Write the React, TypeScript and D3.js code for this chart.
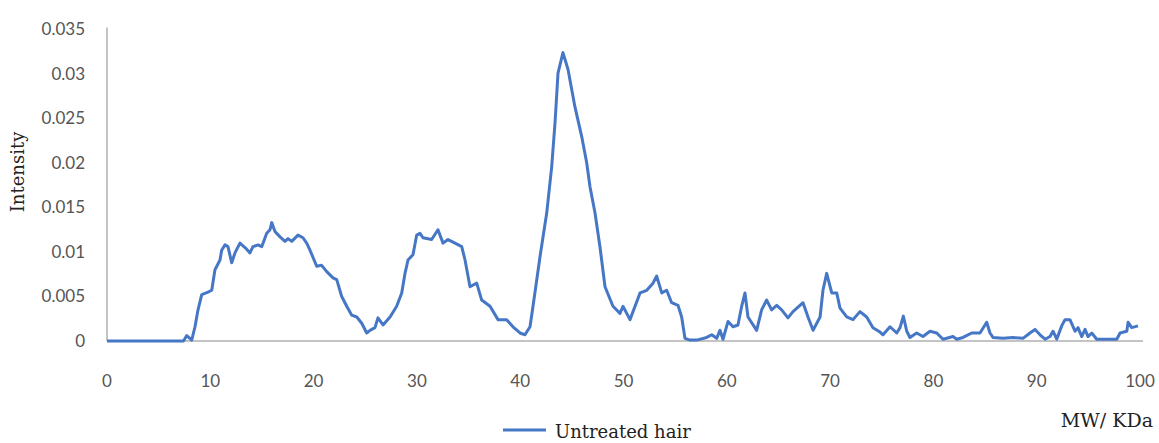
import React from "react";
import { scaleLinear, line, range } from "d3";

// molecular weight (kDa) and intensity
const mw = [
  0, 7.4, 7.72, 8.2, 8.52, 8.81, 9.17, 9.78, 10.14, 10.45, 10.94, 11.1, 11.42, 11.71, 12.07, 12.39,
  12.87, 13.36, 13.84, 14.13, 14.62, 14.98, 15.46, 15.78, 15.95, 16.26, 16.75, 17.23, 17.52, 17.88,
  18.49, 18.97, 19.33, 19.65, 20.3, 20.78, 21.27, 21.88, 22.24, 22.72, 23.21, 23.69, 24.18, 24.66,
  25.14, 25.46, 25.94, 26.23, 26.72, 27.4, 28.04, 28.53, 28.85, 29.14, 29.62, 29.98, 30.3, 30.59,
  31.43, 32.04, 32.53, 33.01, 33.69, 34.34, 34.66, 35.14, 35.79, 36.27, 37.08, 37.85, 38.69, 39.3,
  39.98, 40.46, 40.95, 41.24, 41.92, 42.57, 43.05, 43.37, 43.66, 44.14, 44.63, 45.3, 45.95, 46.44,
  46.76, 47.24, 47.72, 48.21, 48.98, 49.66, 49.95, 50.63, 51.6, 52.25, 52.86, 53.21, 53.7, 54.18,
  54.66, 55.28, 55.63, 55.95, 56.44, 57.09, 58.05, 58.54, 59.02, 59.34, 59.63, 60.12, 60.6, 61.08,
  61.44, 61.76, 62.05, 62.89, 63.37, 63.86, 64.34, 64.83, 65.31, 65.92, 66.41, 67.38, 67.86, 68.35,
  69.03, 69.31, 69.67, 70.16, 70.64, 70.96, 71.61, 72.22, 72.89, 73.54, 74.15, 74.83, 75.12, 75.8,
  76.45, 76.77, 77.09, 77.42, 77.73, 78.38, 78.99, 79.67, 80.32, 80.93, 81.9, 82.26, 82.87, 83.71,
  84.51, 85.16, 85.48, 85.77, 86.74, 87.7, 88.67, 89.35, 89.84, 90.32, 90.81, 91.29, 91.58, 91.94,
  92.42, 92.74, 93.22, 93.71, 94.0, 94.36, 94.68, 94.97, 95.33, 95.81, 97.75, 98.07, 98.72, 98.85,
  99.2, 99.81,
];
const intensity = [
  0, 0, 0.0006, 0.0001, 0.0016, 0.0035, 0.0052, 0.0055, 0.0057, 0.008, 0.0091, 0.0102, 0.0108, 0.0106,
  0.0088, 0.0099, 0.011, 0.0105, 0.0099, 0.0106, 0.0108, 0.0106, 0.0121, 0.0125, 0.0133, 0.0123, 0.0117,
  0.0112, 0.0115, 0.0112, 0.0119, 0.0116, 0.011, 0.0102, 0.0084, 0.0085, 0.0078, 0.0071, 0.0069, 0.005,
  0.0039, 0.0029, 0.0027, 0.002, 0.0009, 0.0012, 0.0015, 0.0026, 0.0018, 0.0027, 0.0039, 0.0054, 0.0076,
  0.0091, 0.0097, 0.0119, 0.0121, 0.0116, 0.0114, 0.0125, 0.011, 0.0114, 0.011, 0.0106, 0.0091, 0.0061,
  0.0065, 0.0046, 0.0039, 0.0024, 0.0024, 0.0016, 0.0009, 0.0007, 0.0016, 0.0039, 0.0095, 0.0144, 0.0196,
  0.0245, 0.0301, 0.0324, 0.0305, 0.0263, 0.023, 0.02, 0.0173, 0.0144, 0.0106, 0.0061, 0.0039, 0.0031,
  0.0039, 0.0024, 0.0054, 0.0057, 0.0065, 0.0073, 0.0054, 0.0057, 0.0043, 0.004, 0.0027, 0.0003, 0.0001,
  0.0001, 0.0004, 0.0007, 0.0003, 0.0012, 0.0002, 0.0022, 0.0016, 0.0018, 0.0039, 0.0054, 0.0027, 0.0012,
  0.0035, 0.0046, 0.0035, 0.004, 0.0035, 0.0026, 0.0033, 0.0043, 0.0027, 0.0012, 0.0027, 0.0057, 0.0076,
  0.0054, 0.0054, 0.0037, 0.0027, 0.0024, 0.0033, 0.0027, 0.0015, 0.001, 0.0007, 0.0016, 0.0009, 0.0015,
  0.0028, 0.0011, 0.0004, 0.0009, 0.0005, 0.0011, 0.0009, 0.0002, 0.0005, 0.0002, 0.0004, 0.0009, 0.0009,
  0.0021, 0.0009, 0.0004, 0.0003, 0.0004, 0.0003, 0.0009, 0.0013, 0.0007, 0.0002, 0.0005, 0.0011, 0.0002,
  0.0017, 0.0024, 0.0024, 0.0011, 0.0015, 0.0005, 0.0013, 0.0005, 0.0009, 0.0002, 0.0002, 0.0009, 0.0011,
  0.0021, 0.0015, 0.0017,
];
const yTicks = [0, 0.005, 0.01, 0.015, 0.02, 0.025, 0.03, 0.035];
const xTicks = range(0, 101, 10);

const W = 1159;
const H = 443;
const lineColor = "#4677c6";
const axisColor = "#c4c4c4";
const tickFont = "Lato, 'Open Sans', sans-serif";
const serif = "'DejaVu Serif', serif";

export default function App() {
  const x = scaleLinear().domain([0, 100]).range([107, 1140]);
  const y = scaleLinear().domain([0, 0.035]).range([341, 29.5]);

  const pts = mw.map((m, i) => [m, intensity[i]] as [number, number]);
  const path = line<[number, number]>()
    .x((d) => x(d[0]))
    .y((d) => y(d[1]))(pts);

  return (
    <svg
      width={W}
      height={H}
      style={{ position: "absolute", left: 0, top: 0, background: "#fff" }}
    >
      {/* axes */}
      <line x1={x(0)} x2={x(0)} y1={y(0.035) - 2} y2={y(0)} stroke={axisColor} strokeWidth={2} />
      <line x1={x(0)} x2={x(100) + 3} y1={y(0)} y2={y(0)} stroke={axisColor} strokeWidth={2} />

      {yTicks.map((t) => (
        <text
          key={t}
          x={85}
          y={y(t)}
          dy="0.35em"
          textAnchor="end"
          fontFamily={tickFont}
          fontSize={17}
          fill="#555"
        >
          {t === 0 ? "0" : String(t)}
        </text>
      ))}
      {xTicks.map((t) => (
        <text
          key={t}
          x={x(t)}
          y={387}
          textAnchor="middle"
          fontFamily={tickFont}
          fontSize={17}
          fill="#555"
        >
          {t}
        </text>
      ))}

      <text
        transform={`translate(24,172) rotate(-90)`}
        textAnchor="middle"
        fontFamily={serif}
        fontSize={18}
        fill="#222"
      >
        Intensity
      </text>
      <text x={1153} y={427} textAnchor="end" fontFamily={serif} fontSize={19} fill="#222">
        MW/ KDa
      </text>

      <path d={path ?? ""} fill="none" stroke={lineColor} strokeWidth={3} strokeLinejoin="round" />

      {/* legend */}
      <line x1={503} x2={546} y1={430} y2={430} stroke={lineColor} strokeWidth={3} />
      <text x={555} y={438} fontFamily={serif} fontSize={18} fill="#222">
        Untreated hair
      </text>
    </svg>
  );
}
